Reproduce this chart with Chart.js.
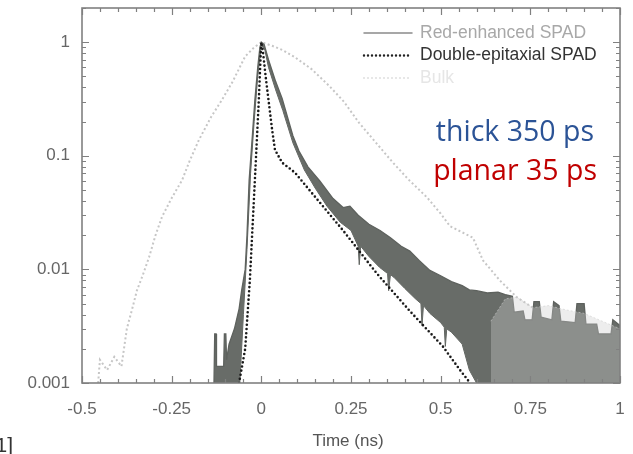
<!doctype html>
<html lang="en">

<head>
    <meta charset="utf-8">
    <title>SPAD timing response</title>
    <style>
        body { margin: 0; background: #fff; }
        #container { width: 633px; height: 454px; }
    </style>
</head>

<body>
    <div id="container"><canvas id="chart"></canvas></div>

    <script type="text/javascript" src="https://cdn.jsdelivr.net/npm/chart.js@4/dist/chart.umd.min.js"></script>
    <script type="text/javascript">
        // values: [time (ns), normalised counts]
        const X_TICKS = [-0.5, -0.25, 0, 0.25, 0.5, 0.75, 1];
        const Y_TICKS = [0.001, 0.01, 0.1, 1];
        const SERIES_NAMES = ["Red-enhanced SPAD", "Double-epitaxial SPAD", "Bulk"];
        const NOTES = ["thick 350 ps", "planar 35 ps"];

        const doubleEpi = [
            [-0.062, 0.001], [-0.045, 0.002], [-0.032, 0.008], [-0.018, 0.061], [-0.007, 0.31],
            [-0.002, 0.75], [0, 1.0], [0.005, 0.8], [0.012, 0.5], [0.02, 0.31], [0.03, 0.17],
            [0.038, 0.113], [0.058, 0.087], [0.094, 0.071], [0.141, 0.047], [0.228, 0.022],
            [0.322, 0.0092], [0.414, 0.0043], [0.506, 0.0021], [0.554, 0.0013], [0.582, 0.001]
        ];

        const redUpper = [
            [-0.132, 0.001], [-0.13, 0.0027], [-0.126, 0.0027], [-0.125, 0.0014], [-0.105, 0.0014],
            [-0.103, 0.0027], [-0.099, 0.0027], [-0.097, 0.0016], [-0.09, 0.0022], [-0.075, 0.003],
            [-0.062, 0.0045], [-0.055, 0.0065], [-0.045, 0.01], [-0.04, 0.02], [-0.034, 0.061],
            [-0.025, 0.15], [-0.018, 0.31], [-0.01, 0.6], [-0.004, 0.9], [0, 1.0], [0.008, 0.95],
            [0.02, 0.7], [0.04, 0.45], [0.058, 0.32], [0.088, 0.15], [0.105, 0.11], [0.13, 0.08],
            [0.163, 0.06], [0.2, 0.042], [0.228, 0.035], [0.247, 0.036], [0.27, 0.03], [0.3, 0.025],
            [0.331, 0.022], [0.36, 0.019], [0.39, 0.016], [0.414, 0.0145], [0.44, 0.012],
            [0.47, 0.0098], [0.5, 0.0088], [0.53, 0.0078], [0.56, 0.0072], [0.58, 0.0066],
            [0.6, 0.0065], [0.63, 0.0062], [0.66, 0.0063], [0.68, 0.006], [0.7, 0.0058],
            [0.705, 0.0042], [0.73, 0.0043], [0.735, 0.0036], [0.755, 0.0036], [0.76, 0.0052],
            [0.775, 0.0052], [0.78, 0.0038], [0.81, 0.0036], [0.815, 0.0052], [0.83, 0.0048],
            [0.835, 0.0035], [0.875, 0.0034], [0.88, 0.005], [0.9, 0.005], [0.905, 0.0033],
            [0.935, 0.0033], [0.94, 0.0027], [0.975, 0.0027], [0.98, 0.0036], [1.0, 0.0032]
        ];

        const redLower = [
            [-0.132, 0.001], [-0.06, 0.001], [-0.05, 0.004], [-0.04, 0.015], [-0.03, 0.07],
            [-0.02, 0.2], [-0.01, 0.5], [0, 0.95], [0.01, 0.85], [0.02, 0.6], [0.04, 0.38],
            [0.06, 0.25], [0.088, 0.13], [0.12, 0.075], [0.15, 0.052], [0.183, 0.036],
            [0.22, 0.026], [0.25, 0.022], [0.27, 0.016], [0.273, 0.011], [0.277, 0.016],
            [0.3, 0.013], [0.33, 0.0104], [0.352, 0.0092], [0.355, 0.0065], [0.36, 0.009],
            [0.37, 0.0085], [0.4, 0.0068], [0.43, 0.0055], [0.445, 0.005], [0.448, 0.0032],
            [0.452, 0.0048], [0.47, 0.0041], [0.5, 0.0034], [0.51, 0.0031], [0.513, 0.0021],
            [0.517, 0.003], [0.53, 0.0028], [0.56, 0.0022], [0.58, 0.0013], [0.6, 0.001], [1.0, 0.001]
        ];

        const bulk = [
            [-0.455, 0.001], [-0.45, 0.0016], [-0.43, 0.0013], [-0.41, 0.0017], [-0.39, 0.0014],
            [-0.375, 0.003], [-0.36, 0.0045], [-0.347, 0.0065], [-0.33, 0.009], [-0.313, 0.0128],
            [-0.295, 0.02], [-0.277, 0.029], [-0.249, 0.043], [-0.221, 0.061], [-0.2, 0.09],
            [-0.174, 0.138], [-0.14, 0.22], [-0.11, 0.31], [-0.08, 0.45], [-0.045, 0.75],
            [-0.02, 0.9], [0, 1.0], [0.03, 0.93], [0.06, 0.85], [0.093, 0.74], [0.14, 0.58],
            [0.19, 0.41], [0.23, 0.3], [0.272, 0.196], [0.32, 0.13], [0.367, 0.087], [0.41, 0.062],
            [0.462, 0.043], [0.5, 0.031], [0.526, 0.024], [0.59, 0.019], [0.618, 0.012],
            [0.665, 0.008], [0.712, 0.0057], [0.757, 0.0046]
        ];

        const bulkTailUpper = [
            [0.64, 0.0035], [0.68, 0.0055], [0.712, 0.0057], [0.757, 0.0046], [0.8, 0.0048],
            [0.85, 0.0044], [0.9, 0.0041], [0.95, 0.0035], [1.0, 0.003]
        ];
        const bulkTailLower = [[0.64, 0.001], [1.0, 0.001]];

        const toXY = arr => arr.map(([x, y]) => ({ x, y }));
        const decadeOf = v => Y_TICKS.find(t => Math.abs(v - t) / t < 1e-6);

        const FONT = "'Liberation Sans', Arial, sans-serif";

        const framePlugin = {
            id: "frame",
            afterDraw(chart) {
                const { ctx, chartArea: a, scales: { x, y } } = chart;
                ctx.save();
                ctx.strokeStyle = "#808080";
                ctx.lineWidth = 1.2;
                ctx.beginPath();
                // x ticks every 0.05 ns, longer at labelled values
                for (let i = 0; i <= 30; i++) {
                    const px = Math.round(x.getPixelForValue(-0.5 + i * 0.05)) + 0.5;
                    const len = i % 5 === 0 ? 7 : 4;
                    ctx.moveTo(px, a.bottom); ctx.lineTo(px, a.bottom - len);
                    ctx.moveTo(px, a.top); ctx.lineTo(px, a.top + len);
                }
                // log y ticks
                for (let e = -3; e <= 0; e++) {
                    for (let m = 1; m <= 9; m++) {
                        const v = m * Math.pow(10, e);
                        if (v > y.max) break;
                        const py = Math.round(y.getPixelForValue(v)) + 0.5;
                        const len = m === 1 ? 7 : 4;
                        ctx.moveTo(a.left, py); ctx.lineTo(a.left + len, py);
                        ctx.moveTo(a.right, py); ctx.lineTo(a.right - len, py);
                    }
                }
                ctx.stroke();
                ctx.lineWidth = 1.6;
                ctx.strokeRect(a.left, a.top, a.right - a.left, a.bottom - a.top);

                // legend inside the plot
                const rows = [
                    { color: "#8a8a8a", text: "#a8a8a8", dash: [], width: 1.5 },
                    { color: "#222", text: "#333", dash: [0, 4], width: 2.4 },
                    { color: "#e2e2e2", text: "#e6e6e6", dash: [0, 4], width: 2.2 }
                ];
                ctx.font = "17.5px " + FONT;
                ctx.textBaseline = "middle";
                ctx.textAlign = "left";
                ctx.lineCap = "round";
                rows.forEach((r, i) => {
                    const ly = 33 + i * 22.5;
                    ctx.strokeStyle = r.color;
                    ctx.lineWidth = r.width;
                    ctx.setLineDash(r.dash);
                    ctx.beginPath(); ctx.moveTo(364, ly); ctx.lineTo(412, ly); ctx.stroke();
                    ctx.fillStyle = r.text;
                    ctx.fillText(SERIES_NAMES[i], 420, ly);
                });
                ctx.setLineDash([]);

                // notes
                ctx.textAlign = "right";
                ctx.textBaseline = "alphabetic";
                ctx.font = "28.5px 'Open Sans', Lato, sans-serif";
                ctx.fillStyle = "#2b5396";
                ctx.fillText(NOTES[0], 594, 141);
                ctx.fillStyle = "#c00000";
                ctx.fillText(NOTES[1], 597, 180);

                // axis title and the cut reference mark
                ctx.textAlign = "center";
                ctx.font = "17px " + FONT;
                ctx.fillStyle = "#555";
                ctx.fillText("Time (ns)", 348, 446);
                ctx.textAlign = "right";
                ctx.font = "21px " + FONT;
                ctx.fillStyle = "#333";
                ctx.fillText("[1]", 13, 452);
                ctx.restore();
            }
        };

        const line = (data, opts) => ({
            data: toXY(data),
            pointRadius: 0,
            tension: 0,
            fill: false,
            ...opts
        });

        const config = {
            type: "line",
            data: {
                datasets: [
                    line(bulkTailUpper, { borderColor: "rgba(205,205,205,0.6)", borderWidth: 1, borderDash: [2, 2], fill: { target: 1 }, backgroundColor: "rgba(205,205,205,0.36)" }),
                    line(bulkTailLower, { borderWidth: 0 }),
                    line(doubleEpi, { borderColor: "#1a1a1a", borderWidth: 2.6, borderDash: [0, 4.2], borderCapStyle: "round" }),
                    line(redUpper, { borderColor: "#5e625e", borderWidth: 1.3, fill: { target: 4 }, backgroundColor: "#686c68" }),
                    line(redLower, { borderColor: "#5e625e", borderWidth: 1 }),
                    line(bulk, { borderColor: "#c6c6c6", borderWidth: 2, borderDash: [2, 2.5] })
                ]
            },
            options: {
                responsive: false,
                animation: false,
                layout: { padding: { top: 8, right: 13, left: 0, bottom: 0 } },
                scales: {
                    x: {
                        type: "linear",
                        min: -0.5,
                        max: 1,
                        afterBuildTicks: s => { s.ticks = X_TICKS.map(v => ({ value: v })); },
                        afterFit: s => { s.height = 71; s.paddingLeft = 0; s.paddingRight = 0; },
                        grid: { display: false, drawTicks: false },
                        border: { display: false },
                        ticks: {
                            padding: 16,
                            color: "#666",
                            font: { family: FONT, size: 17 },
                            callback: v => String(v)
                        }
                    },
                    y: {
                        type: "logarithmic",
                        min: 0.001,
                        max: 2,
                        afterBuildTicks: s => { s.ticks = Y_TICKS.map(v => ({ value: v })); },
                        afterFit: s => { s.width = 82; s.paddingTop = 0; s.paddingBottom = 0; },
                        grid: { display: false, drawTicks: false },
                        border: { display: false },
                        ticks: {
                            padding: 12,
                            color: "#666",
                            font: { family: FONT, size: 17 },
                            callback: v => { const d = decadeOf(v); return d === undefined ? "" : String(d); }
                        }
                    }
                },
                plugins: {
                    legend: { display: false },
                    tooltip: { enabled: false }
                }
            },
            plugins: [framePlugin]
        };
        const canvas = document.getElementById("chart");
        canvas.width = 633;
        canvas.height = 454;
        const chart = new Chart(canvas, config);
    </script>
</body>

</html>
